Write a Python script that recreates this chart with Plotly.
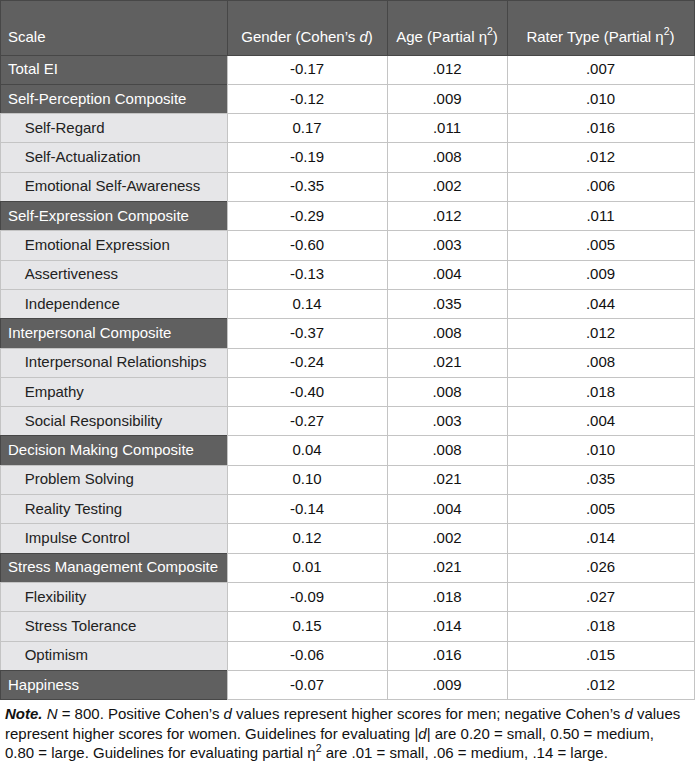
import plotly.graph_objects as go

# rows of the table
scales = ["Total EI", "Self-Perception Composite", "Self-Regard", "Self-Actualization",
          "Emotional Self-Awareness", "Self-Expression Composite", "Emotional Expression",
          "Assertiveness", "Independence", "Interpersonal Composite",
          "Interpersonal Relationships", "Empathy", "Social Responsibility",
          "Decision Making Composite", "Problem Solving", "Reality Testing", "Impulse Control",
          "Stress Management Composite", "Flexibility", "Stress Tolerance", "Optimism",
          "Happiness"]
is_composite = [1, 1, 0, 0, 0, 1, 0, 0, 0, 1, 0, 0, 0, 1, 0, 0, 0, 1, 0, 0, 0, 1]
gender_d = [-0.17, -0.12, 0.17, -0.19, -0.35, -0.29, -0.60, -0.13, 0.14, -0.37, -0.24, -0.40,
            -0.27, 0.04, 0.10, -0.14, 0.12, 0.01, -0.09, 0.15, -0.06, -0.07]
age_eta = [.012, .009, .011, .008, .002, .012, .003, .004, .035, .008, .021, .008, .003, .008,
           .021, .004, .002, .021, .018, .014, .016, .009]
rater_eta = [.007, .010, .016, .012, .006, .011, .005, .009, .044, .012, .008, .018, .004, .010,
             .035, .005, .014, .026, .027, .018, .015, .012]
headers = ["Scale", "Gender (Cohen’s <i>d</i>)", "Age (Partial η<sup>2</sup>)",
           "Rater Type (Partial η<sup>2</sup>)"]

DARK = "#606060"
LIGHT = "#e6e6e8"
FONT = "Liberation Sans, Arial, sans-serif"


def eta(v):
    return ("%.3f" % v).lstrip("0")


# non-breaking spaces so the long labels don't wrap
labels = [(s if c else "\u00a0\u00a0\u00a0\u00a0" + s).replace(" ", "\u00a0")
          for s, c in zip(scales, is_composite)]
lab_fill = [DARK if c else LIGHT for c in is_composite]
lab_font = ["white" if c else "#222222" for c in is_composite]
lab_line = ["#474747" if c else "#c4c4c4" for c in is_composite]
n = len(scales)

fig = go.Figure(go.Table(
    domain=dict(x=[0, 694 / 696], y=[0, 1]),
    columnwidth=[227, 160, 120, 187],
    header=dict(
        values=["\u00a0<br>" + h for h in headers],
        fill_color=DARK,
        line=dict(color="#474747", width=1),
        font=dict(family=FONT, size=15, color="white"),
        align=["left", "center", "center", "center"],
        height=55,
    ),
    cells=dict(
        values=[labels, ["%.2f" % v for v in gender_d],
                [eta(v) for v in age_eta], [eta(v) for v in rater_eta]],
        fill_color=[lab_fill, ["white"] * n, ["white"] * n, ["white"] * n],
        line=dict(color=[lab_line, ["#c4c4c4"] * n, ["#c4c4c4"] * n, ["#c4c4c4"] * n], width=1),
        font=dict(family=FONT, size=15, color=[lab_font, ["#111111"] * n,
                                               ["#111111"] * n, ["#111111"] * n]),
        align=["left", "center", "center", "center"],
        height=29.3,
    ),
))

note = ("<b><i>Note.</i></b> <i>N</i> = 800. Positive Cohen’s <i>d</i> values represent higher "
        "scores for men; negative Cohen’s <i>d</i> values<br>"
        "represent higher scores for women. Guidelines for evaluating |<i>d</i>| are 0.20 = small, "
        "0.50 = medium,<br>"
        "0.80 = large. Guidelines for evaluating partial η<sup>2</sup> are .01 = small, "
        ".06 = medium, .14 = large.")
fig.add_annotation(text=note, xref="paper", yref="paper", x=0.004, y=(770 - 703) / 770,
                   xanchor="left", yanchor="top", align="left", showarrow=False,
                   font=dict(family=FONT, size=15, color="#111111"))

fig.update_layout(width=696, height=770, margin=dict(l=0, r=0, t=0, b=0),
                  paper_bgcolor="white", plot_bgcolor="white")

fig.write_html("out.html", config={"displayModeBar": False},
               post_script="document.body.style.margin='0';")
